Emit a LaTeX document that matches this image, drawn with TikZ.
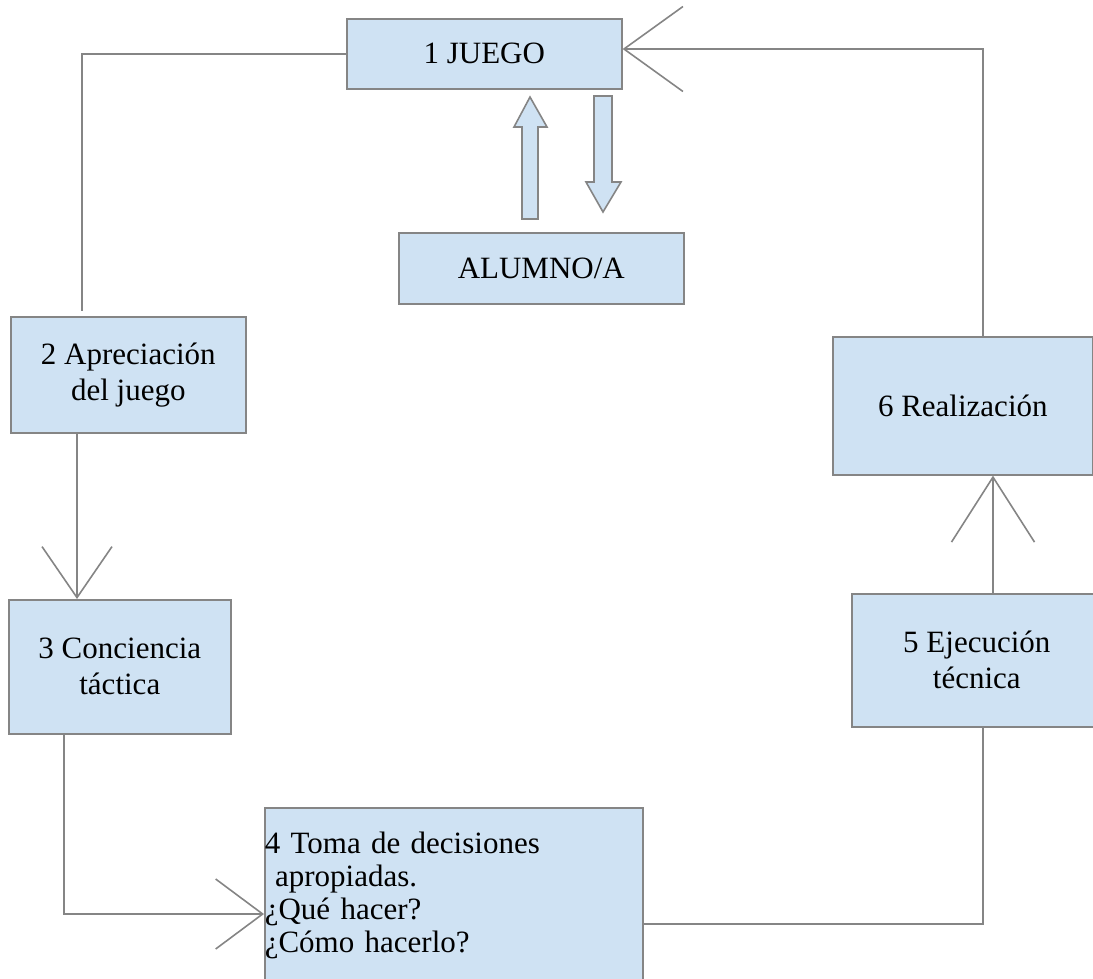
\documentclass[tikz,border=0pt]{standalone}
\usepackage{fontspec}
\setmainfont{Liberation Serif}
\usetikzlibrary{arrows.meta,calc}
\definecolor{boxfill}{HTML}{CFE2F3}
\definecolor{edgegray}{HTML}{858585}
\begin{document}
\begin{tikzpicture}[x=1pt,y=-1pt,
  box/.style={draw=edgegray, fill=boxfill, line width=1.6pt, rectangle, anchor=north west,
    align=center, font=\fontsize{31}{36}\selectfont, inner sep=0pt},
  conn/.style={draw=edgegray, line width=1.6pt},
  blockarrow/.style={draw=edgegray, fill=boxfill, line width=1.6pt, line join=miter},
]
\useasboundingbox (0,0) rectangle (1093,978);
\clip (0,0) rectangle (1093,978);

% boxes
\node[box, minimum width=275, minimum height=70] (box1) at (346,18) {1 JUEGO};
\node[box, minimum width=285, minimum height=71] (alum) at (398,232) {ALUMNO/A};
\node[box, minimum width=235, minimum height=116] (box2) at (10,316) {2 Apreciación\\del juego};
\node[box, minimum width=222, minimum height=134] (box3) at (8,599) {3 Conciencia\\táctica};
\node[box, minimum width=378, minimum height=176, text width=378, align=left,
      font=\fontsize{31}{33}\selectfont] (box4) at (264,807)
      {4 Toma de decisiones\\\ apropiadas.\\¿Qué hacer?\\¿Cómo hacerlo?};
\node[box, minimum width=250, minimum height=133] (box5) at (851,593) {5 Ejecución\\técnica};
\node[box, minimum width=260, minimum height=138] (box6) at (832,336) {6 Realización};

% block arrows between JUEGO and ALUMNO/A
\draw[blockarrow] (522,219) -- (522,127) -- (514,127) -- (530,97) -- (547,127) -- (538,127) -- (538,219) -- cycle;
\draw[blockarrow] (594,96) -- (612,96) -- (612,182) -- (621,182) -- (603,212) -- (586,182) -- (594,182) -- cycle;

% connectors
\coordinate (k12) at (82,54);
\coordinate (e12) at (82,311);
\draw[conn] (box1.west |- k12) -- (k12) -- (e12);

\coordinate (x23) at (77,0);
\draw[conn, -{Straight Barb[length=51pt,width=70pt]}] (x23 |- box2.south) -- (x23 |- box3.north);

\coordinate (k34) at (64,914);
\draw[conn, -{Straight Barb[length=47pt,width=70pt]}] (k34 |- box3.south) -- (k34) -- (k34 -| box4.west);

\coordinate (k45) at (983,924);
\draw[conn] (k45 -| box4.east) -- (k45) -- (k45 |- box5.south);

\coordinate (x56) at (993,0);
\draw[conn, -{Straight Barb[length=65pt,width=83pt]}] (x56 |- box5.north) -- (x56 |- box6.south);

\coordinate (k61) at (983,49);
\draw[conn, -{Straight Barb[length=59pt,width=85pt]}] (k61 |- box6.north) -- (k61) -- (k61 -| box1.east);
\end{tikzpicture}
\end{document}
